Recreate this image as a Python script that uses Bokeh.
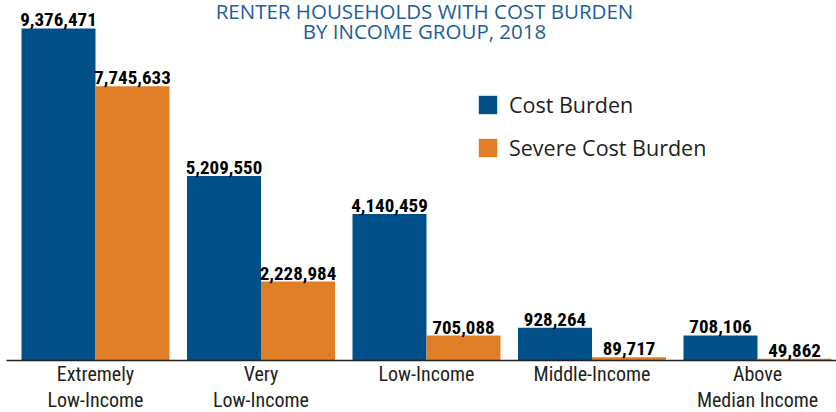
from bokeh.plotting import figure
from bokeh.models import ColumnDataSource, Range1d, FixedTicker, Legend, LegendItem, Label
from bokeh.transform import dodge
from bokeh.core.properties import value
from bokeh.embed import file_html
from bokeh.resources import INLINE

categories = ["Extremely\nLow-Income", "Very\nLow-Income", "Low-Income", "Middle-Income", "Above\nMedian Income"]
cost_burden = [9376471, 5209550, 4140459, 928264, 708106]
severe_cost_burden = [7745633, 2228984, 705088, 89717, 49862]
series_names = ["Cost Burden", "Severe Cost Burden"]
title_lines = ["RENTER HOUSEHOLDS WITH COST BURDEN", "BY INCOME GROUP, 2018"]

BLUE = "#02508A"
ORANGE = "#E07E27"
DARK = "#231F20"
TITLE_COLOR = "#1D5E9C"
COND = "Roboto Condensed, Noto Sans Condensed, DejaVu Sans Condensed"

idx = list(range(len(categories)))
src = ColumnDataSource(dict(
    x=idx,
    cb=cost_burden,
    scb=severe_cost_burden,
    cb_lab=[f"{v:,}" for v in cost_burden],
    scb_lab=[f"{v:,}" for v in severe_cost_burden],
))

BW = 0.4471
OFF = 0.2236

p = figure(frame_width=830, frame_height=360, output_backend="svg", toolbar_location=None,
           x_range=Range1d(-0.5378, 4.4773), y_range=Range1d(0, 10.166e6),
           y_axis_location=None,
           min_border_left=6, min_border_right=0, min_border_top=0, min_border_bottom=52,
           outline_line_color=None, background_fill_color="white", border_fill_color="white")
p.grid.visible = False

r1 = p.vbar(x=dodge("x", -OFF, range=p.x_range), top="cb", width=BW, source=src,
            fill_color=BLUE, line_color=None)
r2 = p.vbar(x=dodge("x", OFF, range=p.x_range), top="scb", width=BW, source=src,
            fill_color=ORANGE, line_color=None)

for key, off in (("cb", -OFF), ("scb", OFF)):
    p.text(x=dodge("x", off, range=p.x_range), y=key, text=key + "_lab", source=src,
           text_align="center", text_baseline="bottom", y_offset=-2,
           text_font=value(COND), text_font_style="bold",
           text_font_size="19px", text_color="black")

ax = p.xaxis[0]
ax.ticker = FixedTicker(ticks=idx)
ax.major_label_overrides = {i: c for i, c in zip(idx, categories)}
ax.major_label_text_font = COND
ax.major_label_text_font_size = "20px"
ax.major_label_text_line_height = 1.12
ax.major_label_text_color = DARK
ax.major_label_standoff = 1
ax.axis_line_color = DARK
ax.axis_line_width = 1.5
ax.major_tick_line_color = None
ax.minor_tick_line_color = None
ax.major_tick_out = 0
ax.major_tick_in = 0

legend = Legend(items=[LegendItem(label=series_names[0], renderers=[r1]),
                       LegendItem(label=series_names[1], renderers=[r2])],
                location=(470, 198), glyph_width=23, glyph_height=23, label_height=23,
                spacing=14, label_standoff=10, padding=0, margin=0,
                border_line_color=None, background_fill_alpha=0,
                label_text_font="Open Sans", label_text_font_size="21.5px",
                label_text_color=DARK)
p.add_layout(legend)

for line, yb in zip(title_lines, (350, 330)):
    p.add_layout(Label(x=418, y=yb, x_units="screen", y_units="screen", text=line,
                       text_align="center", text_baseline="alphabetic",
                       text_font="Open Sans", text_font_size="20.5px", text_color=TITLE_COLOR))

open("out.html", "w").write(file_html(p, INLINE))
